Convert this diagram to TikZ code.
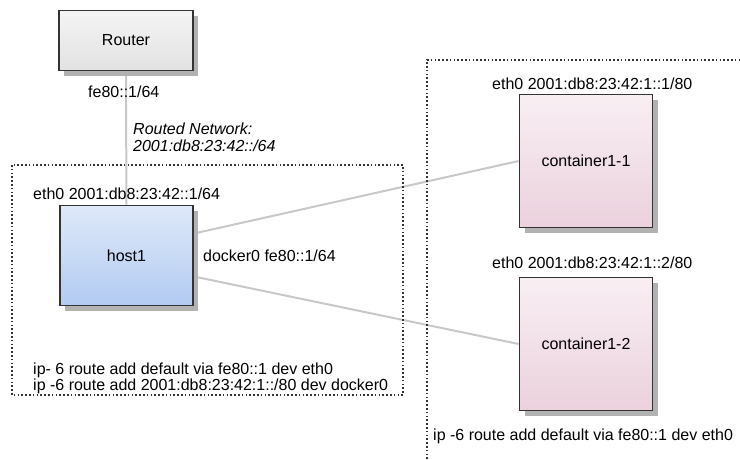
\documentclass[tikz,border=0pt]{standalone}
\usepackage{fontspec}
\setmainfont{Liberation Sans}
\usepackage{xcolor}
\usetikzlibrary{shadows,backgrounds}

\definecolor{boxline}{HTML}{333333}
\definecolor{linkgray}{HTML}{C8C8C8}
\definecolor{routertop}{HTML}{F4F4F4}
\definecolor{routerbot}{HTML}{E2E2E2}
\definecolor{hosttop}{HTML}{DEE9F9}
\definecolor{hostbot}{HTML}{B2CBF2}
\definecolor{ctrtop}{HTML}{F8EFF3}
\definecolor{ctrbot}{HTML}{EBD1DD}

\begin{document}
\begin{tikzpicture}[
    x=1pt, y=-1pt,
    font=\fontsize{16}{17}\selectfont,
    box/.style={rectangle, draw=boxline, line width=1.8pt, shading=axis,
        drop shadow={shadow xshift=5pt, shadow yshift=-5pt, fill=black!30, opacity=1}},
    router/.style={box, minimum width=134pt, minimum height=60pt, top color=routertop, bottom color=routerbot},
    host/.style={box, minimum width=133pt, minimum height=100pt, top color=hosttop, bottom color=hostbot},
    ctr/.style={box, minimum width=133pt, minimum height=133pt, top color=ctrtop, bottom color=ctrbot},
    lbl/.style={inner sep=0pt, anchor=base west},
    zone/.style={draw=boxline, line width=1.6pt, dash pattern=on 1.6pt off 2.2pt},
    link/.style={draw=linkgray, line width=2pt}
]
    \useasboundingbox (0,0) rectangle (740,459);

    % Dotted zones
    \draw[zone] (12,165) rectangle (403,395);
    \draw[zone] (427,459) |- (740,60);

    % Boxes
    \node[router] (router) at (126,40.5) {Router};
    \node[host] (host1) at (126.5,255.5) {host1};
    \node[ctr] (c11) at (586,161) {container1-1};
    \node[ctr] (c12) at (586,344) {container1-2};

    % Addresses
    \node[lbl] (routeraddr) at (88,97) {fe80::1/64};
    \node[inner sep=0pt, anchor=north west, align=left, font=\fontsize{16}{17}\selectfont\itshape] (net) at (133,122.5)
        {Routed Network:\\2001:db8:23:42::/64};
    \node[lbl] (hosteth) at (33,199) {eth0 2001:db8:23:42::1/64};
    \node[lbl] (hostdocker) at (203,261) {docker0 fe80::1/64};
    \node[inner sep=0pt, anchor=north west, align=left, font=\fontsize{16}{15.5}\selectfont] (hostroutes) at (33,363)
        {ip- 6 route add default via fe80::1 dev eth0\\ip -6 route add 2001:db8:23:42:1::/80 dev docker0};
    \node[lbl] (c11eth) at (492,89) {eth0 2001:db8:23:42:1::1/80};
    \node[lbl] (c12eth) at (492,268) {eth0 2001:db8:23:42:1::2/80};
    \node[lbl] (ctrroute) at (433,440) {ip -6 route add default via fe80::1 dev eth0};

    % Links
    \begin{scope}[on background layer]
        \draw[link] (router) -- (host1);
        \draw[link] ([yshift=22pt]host1.east) -- (c11.west);
        \draw[link] ([yshift=-21pt]host1.east) -- (c12.west);
    \end{scope}
\end{tikzpicture}
\end{document}
